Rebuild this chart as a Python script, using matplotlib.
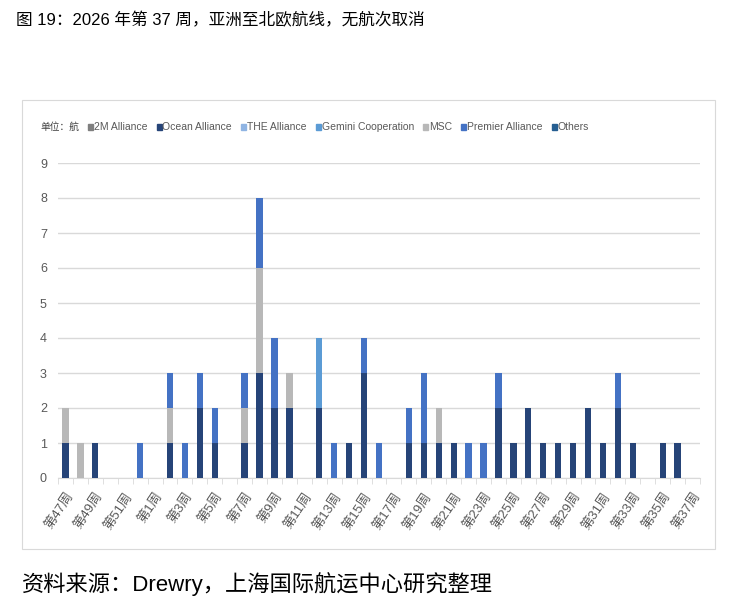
import matplotlib
matplotlib.use("Agg")
import matplotlib.pyplot as plt
from matplotlib.patches import Rectangle
import numpy as np

plt.rcParams['font.family'] = ['Liberation Sans', 'Noto Sans CJK SC', 'DejaVu Sans']

weeks = [47, 48, 49, 50, 51, 52] + list(range(1, 38))
categories = [f"第{w}周" for w in weeks]

series_names = ["2M Alliance", "Ocean Alliance", "THE Alliance", "Gemini Cooperation",
                "MSC", "Premier Alliance", "Others"]
colors = ["#7F7F7F", "#264478", "#8FB4E3", "#5B9BD5", "#B8B8B8", "#4472C4", "#255E91"]

two_m = [0] * 43
ocean = [1, 0, 1, 0, 0, 0, 0, 1, 0, 2, 1, 0, 1, 3, 2, 2, 0, 2, 0, 1, 3,
         0, 0, 1, 1, 1, 1, 0, 0, 2, 1, 2, 1, 1, 1, 2, 1, 2, 1, 0, 1, 1, 0]
the_all = [0] * 43
gemini = [0] * 17 + [2] + [0] * 25
msc = [1, 1, 0, 0, 0, 0, 0, 1, 0, 0, 0, 0, 1, 3, 0, 1, 0, 0, 0, 0, 0,
       0, 0, 0, 0, 1, 0, 0, 0, 0, 0, 0, 0, 0, 0, 0, 0, 0, 0, 0, 0, 0, 0]
premier = [0, 0, 0, 0, 0, 1, 0, 1, 1, 1, 1, 0, 1, 2, 2, 0, 0, 0, 1, 0, 1,
           1, 0, 1, 2, 0, 0, 1, 1, 1, 0, 0, 0, 0, 0, 0, 0, 1, 0, 0, 0, 0, 0]
others = [0] * 43

data = [two_m, ocean, the_all, gemini, msc, premier, others]

W, H = 741, 608
fig = plt.figure(figsize=(W / 100, H / 100), dpi=100)

# chart frame
fig.patches.append(Rectangle((22 / W, 1 - 549 / H), (715 - 22) / W, (549 - 100) / H,
                             transform=fig.transFigure, fill=False, edgecolor="#D9D9D9", lw=0.8))

ax = fig.add_axes([58 / W, 1 - 478 / H, (700 - 58) / W, (478 - 163) / H])
x = np.arange(len(categories))
bottom = np.zeros(len(categories))
for name, vals, c in zip(series_names, data, colors):
    v = np.array(vals, dtype=float)
    ax.bar(x, v, 0.42, bottom=bottom, color=c, label=name, zorder=3)
    bottom += v

ax.set_xlim(-0.5, len(categories) - 0.5)
ax.set_ylim(0, 9)
ax.set_yticks(range(0, 10))
ax.yaxis.grid(True, color="#D9D9D9", lw=1.0, zorder=0)
for s in ["top", "right", "left"]:
    ax.spines[s].set_visible(False)
ax.spines["bottom"].set_color("#D9D9D9")
ax.tick_params(axis="y", length=0, labelsize=9, labelcolor="#595959", pad=8)

ax.set_xticks(np.arange(-0.5, len(categories), 1.0), minor=True)
ax.tick_params(axis="x", which="minor", length=4, color="#D9D9D9")
ax.set_xticks(x[::2])
ax.set_xticklabels(categories[::2], rotation=56, ha="right", rotation_mode="anchor",
                   fontsize=9.5, color="#595959")
ax.tick_params(axis="x", which="major", length=0, pad=9)

# legend row
ly = 1 - 127 / H
fig.text(40 / W, ly, "单位：航", fontsize=7, color="#404040", va="center")
fig.canvas.draw()
renderer = fig.canvas.get_renderer()
cur = 88
for name, c in zip(series_names, colors):
    fig.patches.append(Rectangle((cur / W, ly - 3 / H), 5 / W, 6 / H,
                                 transform=fig.transFigure, color=c))
    t = fig.text((cur + 6) / W, ly, name, fontsize=7.5, color="#595959", va="center")
    wpx = t.get_window_extent(renderer).width
    cur = cur + 6 + wpx + 9

fig.text(16 / W, 1 - 20 / H, "图 19：2026 年第 37 周，亚洲至北欧航线，无航次取消",
         fontsize=12, color="black", va="center")
fig.text(22 / W, 1 - 584 / H, "资料来源：Drewry，上海国际航运中心研究整理",
         fontsize=16, color="black", va="center")

fig.savefig("out.png", dpi=100)
